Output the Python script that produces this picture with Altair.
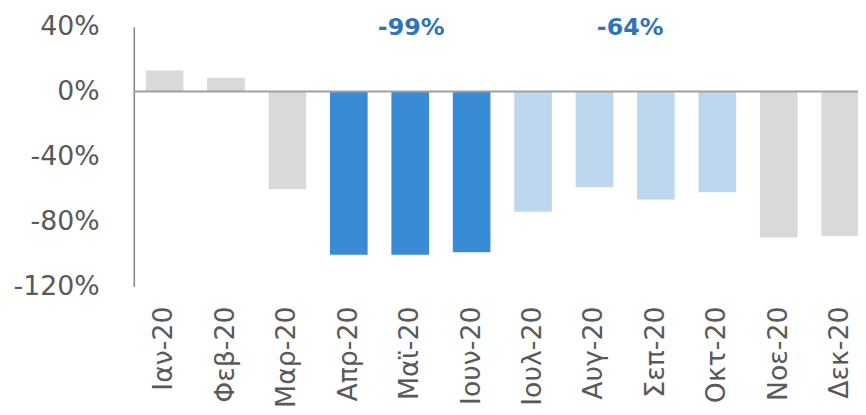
import altair as alt
import pandas as pd

months = ["Ιαν-20", "Φεβ-20", "Μαρ-20", "Απρ-20", "Μαϊ-20", "Ιουν-20",
          "Ιουλ-20", "Αυγ-20", "Σεπ-20", "Οκτ-20", "Νοε-20", "Δεκ-20"]
values = [13, 8.5, -60, -100.5, -100.5, -99, -74, -59, -66.5, -62, -90, -89]
groups = ["other", "other", "other", "lock", "lock", "lock",
          "summer", "summer", "summer", "summer", "other", "other"]
group_names = ["other", "lock", "summer"]
group_colors = ["#d9d9d9", "#3a8bd5", "#bdd7ee"]

ann_text = ["-99%", "-64%"]
ann_month = ["Μαϊ-20", "Αυγ-20"]
ann_shift = [1, 36]
ann_y = [40, 40]

y_ticks = [-120, -80, -40, 0, 40]

df = pd.DataFrame({"month": months, "value": values, "group": groups})

FONT = "DejaVu Sans"

x_enc = alt.X(
    "month:N", sort=months, title=None,
    scale=alt.Scale(range=[0, 744], paddingInner=0.387, paddingOuter=0.1935),
    axis=alt.Axis(labelAngle=-90, domain=False, ticks=False, labelPadding=20,
                  labelFontSize=27, labelFont=FONT, labelColor="#595959",
                  labelLimit=300),
)
y_scale = alt.Scale(domain=[-120, 40], nice=False)

bars = alt.Chart(df).mark_bar().encode(
    x=x_enc,
    y=alt.Y("value:Q", scale=y_scale, title=None,
            axis=alt.Axis(values=y_ticks, labelExpr="datum.value + '%'",
                          grid=False, ticks=False, domain=True,
                          domainColor="#808080", domainWidth=1.5,
                          labelPadding=35, labelFontSize=27, labelFont=FONT,
                          labelColor="#595959")),
    color=alt.Color("group:N", scale=alt.Scale(domain=group_names, range=group_colors),
                    legend=None),
)

zero = alt.Chart(pd.DataFrame({"z": [0]})).mark_rule(
    color="#a0a0a0", strokeWidth=2
).encode(y=alt.Y("z:Q", scale=y_scale), x=alt.value(0), x2=alt.value(731))

layers = [bars, zero]
for t, m, s, yv in zip(ann_text, ann_month, ann_shift, ann_y):
    adf = pd.DataFrame({"month": [m], "label": [t], "y": [yv]})
    layers.append(
        alt.Chart(adf).mark_text(
            font=FONT, fontSize=24, fontWeight="bold", color="#2e75b6",
            baseline="middle", align="center", dx=s, dy=1
        ).encode(x=alt.X("month:N", sort=months), y=alt.Y("y:Q", scale=y_scale),
                 text="label:N")
    )

chart = alt.layer(*layers).properties(
    width=731, height=262,
    autosize=alt.AutoSizeParams(type="none"),
    padding={"left": 127, "top": 17, "right": 0, "bottom": 120},
).configure_view(stroke=None)

chart.save("out.html", embed_options={"renderer": "svg", "actions": False})
